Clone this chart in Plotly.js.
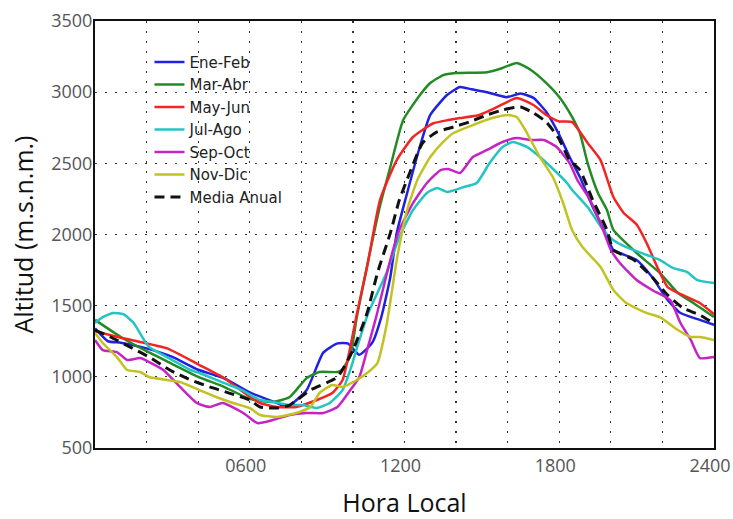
<!DOCTYPE html>
<html>
<head>
<meta charset="utf-8">
<script src="https://cdn.plot.ly/plotly-3.0.1.min.js"></script>
<style>html,body{margin:0;padding:0;background:#fff;}#chart{width:733px;height:519px;}</style>
</head>
<body>
<div id="chart"></div>
<script>
// Hours (local time) and altitude (m.s.n.m.) per period
const eneFebH = [0,0.5,1,2,3,4,5,6,7,7.45,8.2,8.85,9.4,9.8,10.25,10.75,11.1,11.45,11.7,12.1,12.6,13.0,13.65,14.15,14.6,15.2,15.95,16.5,17.0,17.5,18.0,18.4,18.8,19.3,19.85,20.1,21.0,21.6,22.2,22.7,23.45,24];
const eneFebV = [1340,1250,1240,1200,1140,1050,990,890,820,790,905,1170,1235,1235,1155,1240,1420,1700,2010,2290,2620,2840,2980,3036,3020,3000,2965,2990,2960,2860,2700,2545,2404,2193,1990,1891,1821,1701,1540,1448,1400,1365];

const marAbrH = [0,1,2,3,4,5,6,6.9,7.55,8.2,8.7,9.4,9.6,9.9,10.15,10.55,11.05,11.45,11.95,12.6,13.0,13.5,14.0,15.2,15.8,16.35,16.9,17.5,18.0,18.5,18.8,19.1,19.5,19.85,20.1,21.0,21.9,22.6,23.2,24];
const marAbrV = [1400,1280,1180,1090,1000,930,845,823,858,990,1034,1034,1055,1150,1420,1780,2200,2474,2804,2980,3064,3120,3134,3140,3170,3205,3156,3064,2966,2825,2713,2502,2292,2172,2032,1870,1730,1589,1519,1420];

const mayJunH = [0,1,1.75,2.8,4.05,5.0,6.0,6.4,7.05,7.8,8.6,9.2,9.6,9.9,10.15,10.55,11.05,11.7,12.33,13.1,13.7,14.15,14.9,15.6,16.35,17.0,17.5,18.0,18.5,19.1,19.6,20.1,20.5,21.0,21.4,21.8,22.2,22.95,23.45,24];
const mayJunV = [1320,1275,1245,1200,1083,992,860,816,788,788,837,886,978,1210,1440,1772,2242,2523,2685,2780,2804,2818,2840,2896,2959,2910,2840,2795,2790,2643,2523,2263,2151,2070,1935,1772,1631,1561,1519,1440];

const julAgoH = [0,0.3,0.7,1.1,1.5,1.9,2.1,3.0,3.7,4.05,5.0,5.7,6.4,6.9,7.55,8.05,8.6,9.1,9.6,9.9,10.2,10.6,11.3,11.8,12.33,12.87,13.27,13.65,14.3,14.8,15.3,15.8,16.2,16.75,17.25,17.8,18.3,18.5,19.1,19.7,20.1,20.6,21.4,21.9,22.4,22.95,23.35,24];
const julAgoV = [1378,1420,1448,1440,1378,1259,1210,1118,1048,1027,957,907,837,823,802,802,781,816,907,1050,1230,1450,1730,1982,2172,2292,2327,2299,2334,2362,2502,2615,2650,2615,2544,2453,2362,2313,2193,2032,1960,1912,1856,1821,1765,1737,1680,1660];

const sepOctH = [0,0.3,0.85,1.25,1.75,2.1,2.65,3.3,3.95,4.45,4.95,5.75,6.3,6.9,7.55,8.2,8.85,9.4,9.9,10.25,10.55,10.9,11.45,11.8,12.33,12.87,13.4,13.7,14.15,14.65,15.2,15.8,16.35,16.9,17.4,17.9,18.4,18.7,19.2,19.7,20.0,20.35,21.0,21.6,22.3,22.7,23.1,23.45,24];
const sepOctV = [1259,1188,1174,1118,1132,1104,1048,929,816,788,816,746,675,697,732,746,746,788,907,999,1188,1420,1821,2032,2221,2362,2453,2460,2432,2544,2594,2650,2678,2664,2664,2615,2502,2383,2242,2032,1891,1800,1680,1610,1540,1378,1259,1132,1139];

const novDicH = [0,0.3,0.85,1.25,1.75,2.1,2.8,3.3,4.05,4.7,5.35,6.0,6.4,7.05,7.8,8.35,8.7,9.2,9.6,10.15,10.55,10.95,11.3,11.7,12.1,12.5,13.0,13.5,13.9,14.65,15.4,16.0,16.35,16.75,17.25,17.75,18.15,18.5,18.9,19.6,20.1,20.6,21.4,21.9,22.6,23.1,23.45,24];
const novDicV = [1308,1238,1139,1048,1034,999,978,964,907,858,816,781,732,718,746,788,886,943,929,978,1027,1097,1360,1821,2172,2383,2544,2650,2713,2769,2818,2840,2825,2713,2544,2404,2221,2030,1912,1772,1610,1519,1448,1420,1329,1280,1280,1259];

const mediaH = [0,0.6,1.35,2.1,2.9,3.7,4.45,5.2,6.0,6.4,7.05,7.55,8.35,9.4,10.0,10.55,10.95,11.45,11.8,12.2,12.7,13.25,13.9,14.5,15.2,15.8,16.5,17.0,17.5,18.0,18.4,18.8,19.3,19.85,20.1,20.9,21.6,22.2,22.8,23.45,24];
const mediaV = [1329,1280,1210,1139,1048,978,929,886,837,788,781,802,907,999,1188,1448,1730,2010,2242,2432,2643,2720,2755,2790,2840,2875,2896,2854,2790,2670,2523,2453,2242,2032,1891,1821,1701,1575,1483,1434,1375];

const seriesNames = ["Ene-Feb","Mar-Abr","May-Jun","Jul-Ago","Sep-Oct","Nov-Dic","Media Anual"];
const xTickVals = [0,2,4,6,8,10,12,14,16,18,20,22,24];
const xTickText = ["","","","0600","","","1200","","","1800","","","2400"];
const yTickVals = [500,1000,1500,2000,2500,3000,3500];

const colors = ["#2121e0","#238b23","#f22424","#22c4c4","#c424c4","#c2c222","#111111"];
const xs = [eneFebH, marAbrH, mayJunH, julAgoH, sepOctH, novDicH, mediaH];
const ys = [eneFebV, marAbrV, mayJunV, julAgoV, sepOctV, novDicV, mediaV];

const traces = seriesNames.map((n, i) => ({
  type: 'scatter', mode: 'lines', name: n,
  x: xs[i], y: ys[i],
  line: {color: colors[i], width: i === 6 ? 3 : 2.5, dash: i === 6 ? '10px,6px' : 'solid', shape: 'spline', smoothing: 0.5}
}));

const layout = {
  width: 733, height: 519,
  margin: {l: 95, r: 19, t: 21, b: 71},
  paper_bgcolor: '#ffffff', plot_bgcolor: '#ffffff',
  font: {family: 'DejaVu Sans', color: '#444'},
  showlegend: true,
  legend: {x: 0.088, y: 0.942, xanchor: 'left', yanchor: 'top', bgcolor: 'rgba(255,255,255,0)', borderwidth: 0,
    font: {family: 'DejaVu Sans', size: 15, color: '#222'}, tracegroupgap: 0, itemwidth: 30},
  xaxis: {
    range: [0, 24], tickmode: 'array', tickvals: xTickVals, ticktext: xTickText,
    showgrid: true, gridcolor: '#333', gridwidth: 1.3, griddash: '2px,8px',
    showline: true, linecolor: '#111', linewidth: 2, mirror: true, zeroline: false,
    ticks: '', ticklabeloverflow: 'allow', ticklabelshift: -4,
    tickfont: {family: 'Open Sans', size: 18, color: '#555'},
    title: {text: 'Hora Local', font: {family: 'Open Sans', size: 25, color: '#111'}, standoff: 38},
    automargin: false
  },
  yaxis: {
    range: [500, 3500], tickmode: 'array', tickvals: yTickVals,
    showgrid: true, gridcolor: '#333', gridwidth: 1.3, griddash: '2px,8px',
    showline: true, linecolor: '#111', linewidth: 2, mirror: true, zeroline: false,
    ticks: '', ticklabelstandoff: -3, tickfont: {family: 'Open Sans', size: 18, color: '#555'},
    title: {text: 'Altitud (m.s.n.m.)', font: {family: 'Open Sans', size: 25, color: '#111'}, standoff: 10},
    automargin: false
  }
};

Plotly.newPlot('chart', traces, layout, {displayModeBar: false, staticPlot: true});
</script>
</body>
</html>
